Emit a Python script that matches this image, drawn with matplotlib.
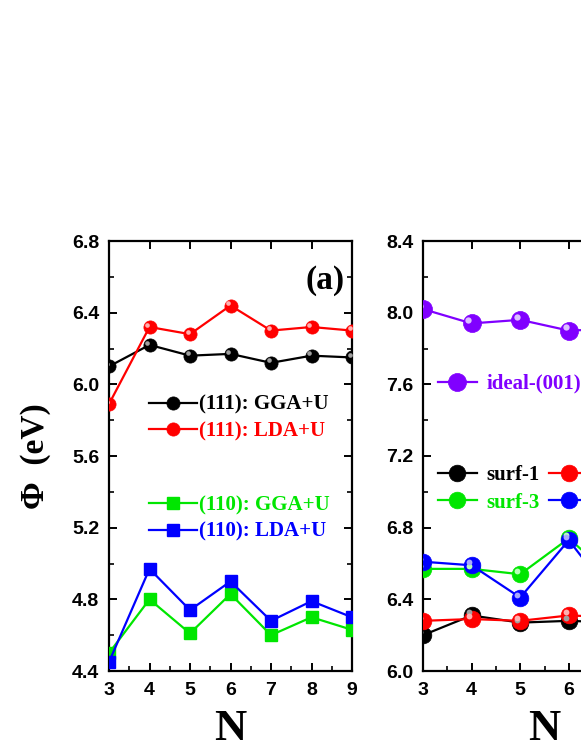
import matplotlib
matplotlib.use("Agg")
import matplotlib.pyplot as plt
from matplotlib.transforms import offset_copy

# ---- data ----
N_a = [3, 4, 5, 6, 7, 8, 9]
gga_111 = [6.10, 6.22, 6.16, 6.17, 6.12, 6.16, 6.15]
lda_111 = [5.89, 6.32, 6.28, 6.44, 6.30, 6.32, 6.30]
gga_110 = [4.50, 4.80, 4.61, 4.83, 4.60, 4.70, 4.63]
lda_110 = [4.45, 4.97, 4.74, 4.90, 4.68, 4.79, 4.70]

N_b = [3, 4, 5, 6, 7, 8]
ideal_001 = [8.02, 7.94, 7.96, 7.90, 7.91, 7.93]
surf_1 = [6.20, 6.31, 6.27, 6.28, 6.27, 6.28]
surf_2 = [6.28, 6.29, 6.28, 6.31, 6.30, 6.29]
surf_3 = [6.57, 6.57, 6.54, 6.74, 6.50, 6.55]
surf_4 = [6.61, 6.59, 6.41, 6.73, 6.38, 6.45]

BLACK, RED, GREEN, BLUE, PURPLE = "#000000", "#ff0000", "#00e600", "#0000ff", "#8000ff"
LIGHT = {BLACK: "#a0a0a0", RED: "#ffb0b0", GREEN: "#b8ffb8", BLUE: "#a8a8ff", PURPLE: "#dcc0ff"}

SERIF = ["Liberation Serif", "DejaVu Serif"]
plt.rcParams["font.family"] = ["Liberation Sans", "DejaVu Sans"]
plt.rcParams["font.weight"] = "bold"


def ball_line(ax, x, y, color, ms, label):
    ln, = ax.plot(x, y, "-o", color=color, lw=1.6, ms=ms, mfc=color,
                  mec=color, mew=0.5, label=label, zorder=3)
    # little highlight to fake the shaded spheres
    tr = offset_copy(ax.transData, fig=ax.figure, x=-ms * 0.18, y=ms * 0.18, units="points")
    ax.plot(x, y, "o", ls="none", ms=ms * 0.35, color=LIGHT[color], mec="none",
            transform=tr, zorder=4)
    return ln


def style_axis(ax):
    for s in ax.spines.values():
        s.set_linewidth(1.6)
    ax.tick_params(which="major", direction="in", length=6, width=1.4,
                   labelsize=14, top=True, right=True, pad=7)
    ax.tick_params(which="minor", direction="in", length=3.5, width=1.2,
                   top=False, right=True)
    ax.tick_params(axis="x", which="major", pad=8)
    for lab in ax.get_xticklabels() + ax.get_yticklabels():
        lab.set_fontweight("bold")


fig = plt.figure(figsize=(5.81, 7.52), dpi=100)
H = 752.0
W = 581.0
ax_a = fig.add_axes([109 / W, 1 - 671 / H, 243 / W, 430 / H])
ax_b = fig.add_axes([423 / W, 1 - 671 / H, 243 / W, 430 / H])

# ---- panel (a) ----
l1 = ball_line(ax_a, N_a, gga_111, BLACK, 9.5, "(111): GGA+U")
l2 = ball_line(ax_a, N_a, lda_111, RED, 9.5, "(111): LDA+U")
l3, = ax_a.plot(N_a, gga_110, "-s", color=GREEN, lw=1.6, ms=9, label="(110): GGA+U", zorder=3)
l4, = ax_a.plot(N_a, lda_110, "-s", color=BLUE, lw=1.6, ms=9, label="(110): LDA+U", zorder=3)

ax_a.set_xlim(3, 9)
ax_a.set_ylim(4.4, 6.8)
ax_a.set_xticks(range(3, 10))
ax_a.set_xticks([3.5, 4.5, 5.5, 6.5, 7.5, 8.5], minor=True)
ax_a.set_yticks([4.4, 4.8, 5.2, 5.6, 6.0, 6.4, 6.8])
ax_a.set_yticks([4.6, 5.0, 5.4, 5.8, 6.2, 6.6], minor=True)
ax_a.set_yticklabels(["4.4", "4.8", "5.2", "5.6", "6.0", "6.4", "6.8"])
style_axis(ax_a)

ax_a.text(0.97, 0.945, "(a)", transform=ax_a.transAxes, ha="right", va="top",
          fontsize=24, fontweight="bold", family=SERIF)
ax_a.set_xlabel("N", fontsize=32, fontweight="bold", family=SERIF, labelpad=7)
ax_a.set_ylabel("Φ  (eV)", fontsize=24, fontweight="bold", family=SERIF)
ax_a.yaxis.set_label_coords(-0.237, 0.5)

leg_kw = dict(frameon=False, loc="upper left", borderpad=0, borderaxespad=0,
              handlelength=2.3, handletextpad=0.1, labelspacing=0.32,
              prop={"family": SERIF, "weight": "bold", "size": 15})
lg1 = ax_a.legend([l1, l2], ["(111): GGA+U", "(111): LDA+U"],
                  bbox_to_anchor=(0.165, 0.642), **leg_kw)
for t, c in zip(lg1.get_texts(), [BLACK, RED]):
    t.set_color(c)
ax_a.add_artist(lg1)
lg2 = ax_a.legend([l3, l4], ["(110): GGA+U", "(110): LDA+U"],
                  bbox_to_anchor=(0.165, 0.409), **leg_kw)
for t, c in zip(lg2.get_texts(), [GREEN, BLUE]):
    t.set_color(c)

# ---- panel (b) ----
p0 = ball_line(ax_b, N_b, ideal_001, PURPLE, 13, "ideal-(001)")
p1 = ball_line(ax_b, N_b, surf_1, BLACK, 12, "surf-1")
p2 = ball_line(ax_b, N_b, surf_2, RED, 12, "surf-2")
p3 = ball_line(ax_b, N_b, surf_3, GREEN, 12, "surf-3")
p4 = ball_line(ax_b, N_b, surf_4, BLUE, 12, "surf-4")

ax_b.set_xlim(3, 8)
ax_b.set_ylim(6.0, 8.4)
ax_b.set_xticks(range(3, 9))
ax_b.set_xticks([3.5, 4.5, 5.5, 6.5, 7.5], minor=True)
ax_b.set_yticks([6.0, 6.4, 6.8, 7.2, 7.6, 8.0, 8.4])
ax_b.set_yticks([6.2, 6.6, 7.0, 7.4, 7.8, 8.2], minor=True)
ax_b.set_yticklabels(["6.0", "6.4", "6.8", "7.2", "7.6", "8.0", "8.4"])
style_axis(ax_b)
ax_b.set_xlabel("N", fontsize=32, fontweight="bold", family=SERIF, labelpad=7)

kb = dict(leg_kw)
kb.update(handlelength=1.9, handletextpad=0.45)
lg3 = ax_b.legend([p0], ["ideal-(001)"], bbox_to_anchor=(0.06, 0.691), **kb)
lg3.get_texts()[0].set_color(PURPLE)
ax_b.add_artist(lg3)
kb.update(columnspacing=0.45, labelspacing=0.36)
# row-wise order: surf-1, surf-2 / surf-3, surf-4
lg4 = ax_b.legend([p1, p3, p2, p4], ["surf-1", "surf-3", "surf-2", "surf-4"],
                  ncol=2, bbox_to_anchor=(0.06, 0.479), **kb)
for t, c in zip(lg4.get_texts(), [BLACK, GREEN, RED, BLUE]):
    t.set_color(c)

fig.savefig("out.png", dpi=100)
